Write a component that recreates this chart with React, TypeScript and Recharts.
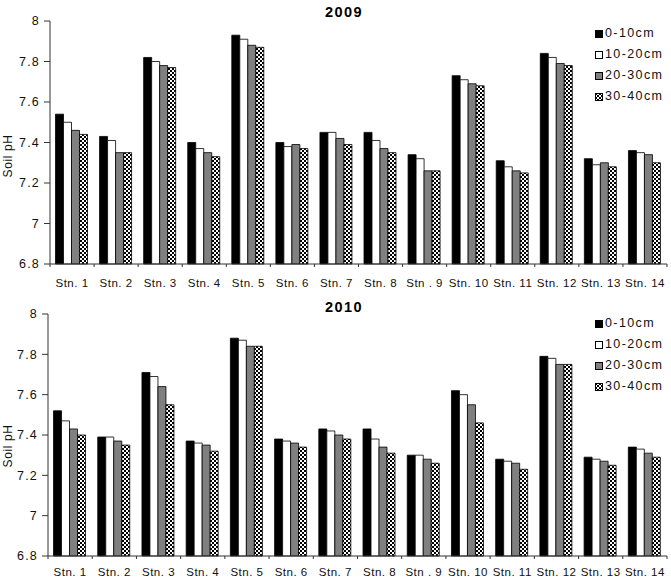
import React from "react";
import { BarChart, Bar, XAxis, YAxis } from "recharts";

const stations = [
  "Stn. 1", "Stn. 2", "Stn. 3", "Stn. 4", "Stn. 5", "Stn. 6", "Stn. 7",
  "Stn. 8", "Stn . 9", "Stn. 10", "Stn. 11", "Stn. 12", "Stn. 13", "Stn. 14",
];

const depths = ["0-10cm", "10-20cm", "20-30cm", "30-40cm"];
const depthFills = ["#000000", "#ffffff", "#808080", "url(#checker)"];

const ph2009_0_10 = [7.54, 7.43, 7.82, 7.40, 7.93, 7.40, 7.45, 7.45, 7.34, 7.73, 7.31, 7.84, 7.32, 7.36];
const ph2009_10_20 = [7.50, 7.41, 7.80, 7.37, 7.91, 7.38, 7.45, 7.41, 7.32, 7.71, 7.28, 7.82, 7.29, 7.35];
const ph2009_20_30 = [7.46, 7.35, 7.78, 7.35, 7.88, 7.39, 7.42, 7.37, 7.26, 7.69, 7.26, 7.79, 7.30, 7.34];
const ph2009_30_40 = [7.44, 7.35, 7.77, 7.33, 7.87, 7.37, 7.39, 7.35, 7.26, 7.68, 7.25, 7.78, 7.28, 7.30];

const ph2010_0_10 = [7.52, 7.39, 7.71, 7.37, 7.88, 7.38, 7.43, 7.43, 7.30, 7.62, 7.28, 7.79, 7.29, 7.34];
const ph2010_10_20 = [7.47, 7.39, 7.69, 7.36, 7.87, 7.37, 7.42, 7.38, 7.30, 7.60, 7.27, 7.78, 7.28, 7.33];
const ph2010_20_30 = [7.43, 7.37, 7.64, 7.35, 7.84, 7.36, 7.40, 7.34, 7.28, 7.55, 7.26, 7.75, 7.27, 7.31];
const ph2010_30_40 = [7.40, 7.35, 7.55, 7.32, 7.84, 7.34, 7.38, 7.31, 7.26, 7.46, 7.23, 7.75, 7.25, 7.29];

const yTicks = [6.8, 7, 7.2, 7.4, 7.6, 7.8, 8];

const FONT = "'Liberation Sans', Arial, sans-serif";
const AXIS = "#333";
const TEXT = "#111";

function buildRows(series: number[][]) {
  return stations.map((name, i) => ({
    name,
    d0: series[0][i],
    d1: series[1][i],
    d2: series[2][i],
    d3: series[3][i],
  }));
}

const data2009 = buildRows([ph2009_0_10, ph2009_10_20, ph2009_20_30, ph2009_30_40]);
const data2010 = buildRows([ph2010_0_10, ph2010_10_20, ph2010_20_30, ph2010_30_40]);

function makeTick(labelDy: number) {
  return function StationTick(props: any) {
    const { x, y, payload, index, visibleTicksCount } = props;
    const half = payload && payload.offset ? payload.offset : 22;
    const last = index === (visibleTicksCount || stations.length) - 1;
    return (
      <g>
        <line x1={x - half} x2={x - half} y1={y} y2={y + 3} stroke={AXIS} />
        {last && <line x1={x + half} x2={x + half} y1={y} y2={y + 3} stroke={AXIS} />}
        <text x={x} y={y + labelDy} textAnchor="middle" fontFamily={FONT} fontSize={11.5} letterSpacing={0.5} fill={TEXT}>
          {payload.value}
        </text>
      </g>
    );
  };
}

function LegendBox({ top }: { top: number }) {
  return (
    <div style={{ position: "absolute", zIndex: 5, left: 595, top, fontFamily: FONT, fontSize: 12.5, color: TEXT, letterSpacing: 1.4, lineHeight: "21px" }}>
      {depths.map((d, i) => (
        <div key={d} style={{ display: "flex", alignItems: "center", height: 21 }}>
          <svg width={8} height={8} style={{ marginRight: 2 }}>
            <rect x={0.5} y={0.5} width={7} height={7} fill={depthFills[i]} stroke="#000" />
          </svg>
          <span>{d}</span>
        </div>
      ))}
    </div>
  );
}

function Panel({ title, data, height, top, axisW, xH, labelDy, titleTop, labelY, legendTop }: any) {
  const Tick = makeTick(labelDy);
  return (
    <div style={{ position: "relative", width: 671, height }}>
      <BarChart
        width={671}
        height={height}
        data={data}
        margin={{ top, right: 4, left: 0, bottom: 0 }}
        barCategoryGap="12.5%"
        barGap={0}
      >
        <XAxis
          dataKey="name"
          height={xH}
          stroke={AXIS}
          tickLine={false}
          tickSize={0}
          tickMargin={0}
          interval={0}
          tick={<Tick />}
        />
        <YAxis
          width={axisW}
          domain={[6.8, 8]}
          ticks={yTicks}
          interval={0}
          stroke={AXIS}
          tickSize={6}
          tickMargin={4}
          tick={{ fill: TEXT, fontSize: 12.5, fontFamily: FONT, letterSpacing: 1.2 }}
        />
        {["d0", "d1", "d2", "d3"].map((k, i) => (
          <Bar key={k} dataKey={k} name={depths[i]} fill={depthFills[i]} stroke="#000" strokeWidth={0.8} isAnimationActive={false} />
        ))}
      </BarChart>
      <div
        style={{
          position: "absolute",
          zIndex: 5,
          left: 0,
          width: 688,
          top: titleTop,
          textAlign: "center",
          fontFamily: FONT,
          fontWeight: "bold",
          fontSize: 14.5,
          letterSpacing: 1.4,
          color: "#000",
          lineHeight: "16px",
        }}
      >
        {title}
      </div>
      <div
        style={{
          position: "absolute",
          zIndex: 5,
          left: 8 - 40,
          top: labelY - 8,
          width: 80,
          height: 16,
          lineHeight: "16px",
          textAlign: "center",
          transform: "rotate(-90deg)",
          fontFamily: FONT,
          fontSize: 12,
          letterSpacing: 0.6,
          color: TEXT,
        }}
      >
        Soil pH
      </div>
      <LegendBox top={legendTop} />
    </div>
  );
}

export default function App() {
  return (
    <div style={{ width: 671, height: 579, background: "#fff", position: "relative" }}>
      <style>{"body{margin:0}"}</style>
      <svg width={0} height={0} style={{ position: "absolute" }}>
        <defs>
          <pattern id="checker" width={4} height={4} patternUnits="userSpaceOnUse">
            <rect width={4} height={4} fill="#fff" />
            <rect width={2} height={2} fill="#000" />
            <rect x={2} y={2} width={2} height={2} fill="#000" />
          </pattern>
        </defs>
      </svg>
      <Panel title="2009" data={data2009} height={290} top={21} axisW={50} xH={26} labelDy={23} titleTop={4} labelY={156} legendTop={23} />
      <Panel title="2010" data={data2010} height={289} top={24} axisW={48} xH={23} labelDy={20} titleTop={9} labelY={156} legendTop={23} />
    </div>
  );
}
